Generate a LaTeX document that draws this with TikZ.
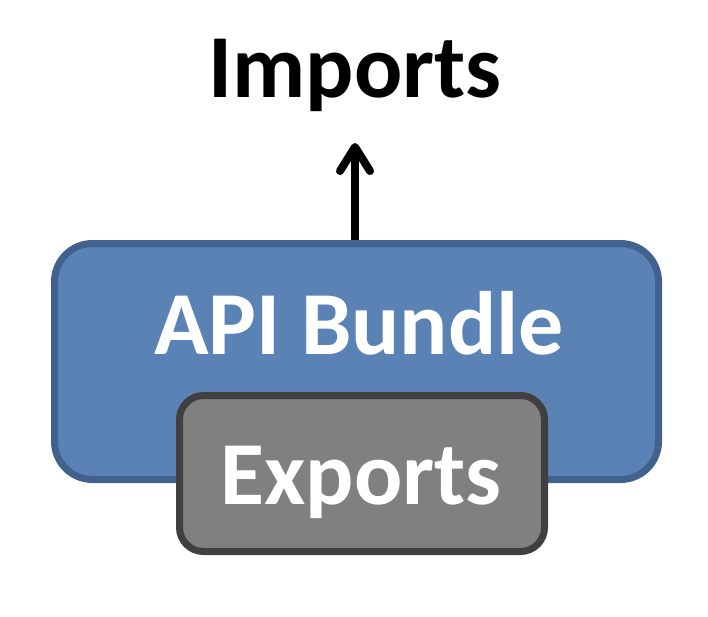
\documentclass[tikz,border=0pt]{standalone}
\usepackage{fontspec}
\setmainfont{Carlito}
\usetikzlibrary{arrows.meta}
\definecolor{bundleblue}{RGB}{90,130,181}
\definecolor{bundleedge}{RGB}{65,97,142}
\definecolor{exportgray}{RGB}{128,128,128}
\definecolor{exportedge}{RGB}{64,64,64}
\tikzset{
    bundlebox/.style={draw=bundleedge, fill=bundleblue, line width=7pt, rounded corners=38pt, minimum width=604pt, minimum height=236pt, inner sep=0pt},
    exportbox/.style={draw=exportedge, fill=exportgray, line width=7pt, rounded corners=24pt, minimum width=365pt, minimum height=156pt, inner sep=0pt},
    bigtext/.style={font=\bfseries\fontsize{90}{100}\selectfont, inner sep=0pt, anchor=base}
}
\begin{document}
\begin{tikzpicture}[x=1pt, y=-1pt]
        \useasboundingbox (0,0) rectangle (708,616);

        \node[bundlebox] (bundle) at (356.5,361.5) {};
        \node[bigtext, text=white] (bundlelabel) at (359,354) {API Bundle};

        \node[exportbox] (exports) at (362,473.5) {};
        \node[bigtext, text=white] (exportslabel) at (361,504) {Exports};

        \node[bigtext] (imports) at (355,97) {Imports};

        \coordinate (arrowtop) at (355,143);
        \draw[line width=8pt, -{Straight Barb[length=24pt, width=30pt, line cap=round, line join=round]}] (bundle.north -| arrowtop) -- (arrowtop);
    \end{tikzpicture}
\end{document}
